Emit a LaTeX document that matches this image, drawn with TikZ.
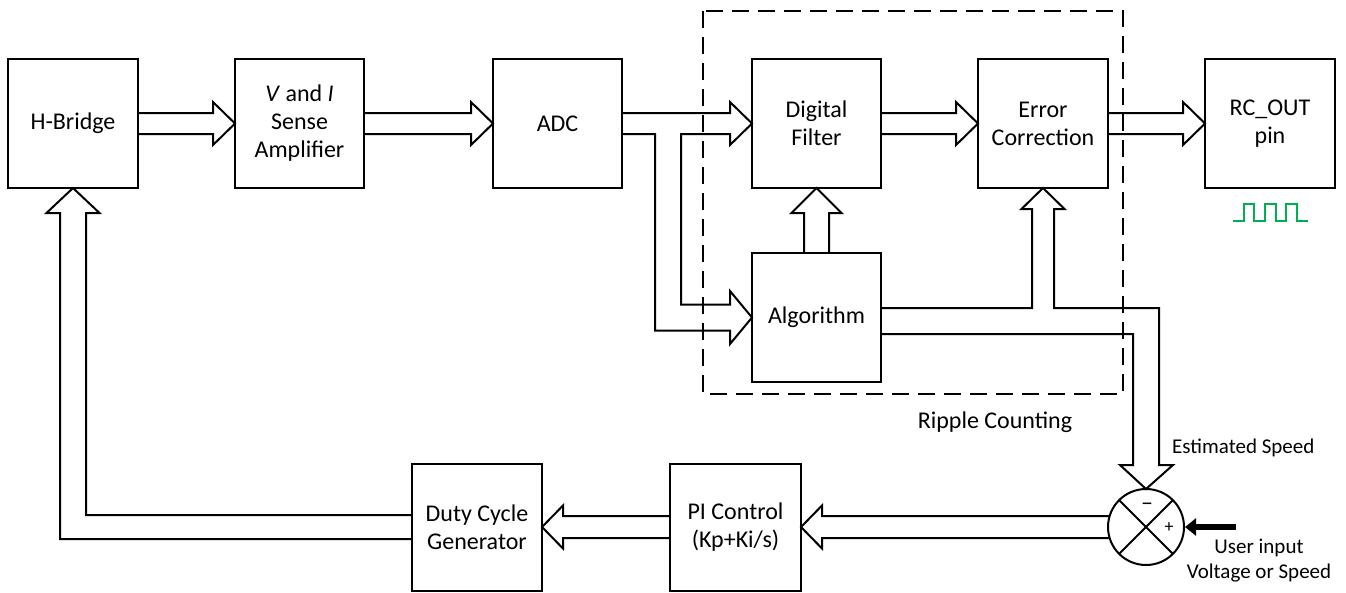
\documentclass[tikz,border=0pt]{standalone}
\usepackage{fontspec}
\setmainfont{Carlito}
\usetikzlibrary{calc,arrows.meta}
\definecolor{pwmgreen}{HTML}{00B050}
\newcommand{\blkarrowR}[2]{\draw[blk] ($(#1.east)+(0,-10.5)$) -- ($(#2.west)+(-22,-10.5)$) -- ($(#2.west)+(-22,-21.5)$) -- (#2.west) -- ($(#2.west)+(-22,21.5)$) -- ($(#2.west)+(-22,10.5)$) -- ($(#1.east)+(0,10.5)$);}
\newcommand{\blkarrowL}[2]{\draw[blk] ($(#1.west)+(0,-11)$) -- ($(#2.east)+(21,-11)$) -- ($(#2.east)+(21,-21.5)$) -- (#2.east) -- ($(#2.east)+(21,21.5)$) -- ($(#2.east)+(21,11)$) -- ($(#1.west)+(0,11)$);}
\begin{document}
\begin{tikzpicture}[x=1pt,y=-1pt,
  box/.style={draw,line width=2pt,minimum width=130pt,minimum height=129pt,align=center,
    font=\fontsize{24}{28}\selectfont,inner sep=0pt,outer sep=0pt},
  lowbox/.style={box,minimum height=127pt},
  blk/.style={draw,line width=2pt,line join=miter},
  lbl/.style={font=\fontsize{21}{25}\selectfont,inner sep=0pt},
  biglbl/.style={font=\fontsize{24}{28}\selectfont,inner sep=0pt}]
\useasboundingbox (0,0) rectangle (1346,592);

% dashed group frame
\draw[line width=2pt,dash pattern=on 17pt off 9pt] (703,11) rectangle (1123,394);

% blocks
\node[box] (hb)  at (73,123.5)   {H-Bridge};
\node[box,minimum width=129pt] (amp) at (299.5,123.5) {\textit{V} and \textit{I}\\Sense\\Amplifier};
\node[box,minimum width=129pt] (adc) at (557.5,123.5) {ADC};
\node[box,minimum width=129pt] (df)  at (816.5,123.5) {Digital\\Filter};
\node[box] (ec)  at (1043,123.5) {Error\\Correction};
\node[box] (rc)  at (1270,123.5) {RC\_OUT\\pin};
\node[box,minimum width=129pt] (alg) at (816.5,317.5) {Algorithm};
\node[lowbox] (dc) at (477,527) {Duty Cycle\\Generator};
\node[lowbox,minimum width=131pt] (pi) at (735.5,527) {PI Control\\(Kp+Ki/s)};
\node[draw,circle,line width=2pt,minimum size=76pt,inner sep=0pt,outer sep=0pt] (s) at (1146,527) {};
\draw[line width=2pt] (s.north west) -- (s.south east) (s.north east) -- (s.south west);
\node[font=\fontsize{24}{26}\selectfont,inner sep=0pt] (minus) at (1147,507) {–};
\node[font=\fontsize{18}{20}\selectfont,inner sep=0pt] (plus) at (1169,528) {+};

% straight block arrows
\blkarrowR{hb}{amp}
\blkarrowR{amp}{adc}
\blkarrowR{df}{ec}
\blkarrowR{ec}{rc}

% ADC -> Digital Filter and Algorithm
\draw[blk] ($(adc.east)+(0,-10.5)$) -- ($(df.west)+(-22,-10.5)$) -- ($(df.west)+(-22,-21.5)$) -- (df.west)
  -- ($(df.west)+(-22,21.5)$) -- ($(df.west)+(-22,10.5)$) -- (681,134) -- (681,304.5)
  -- ($(alg.west)+(-22,-13)$) -- ($(alg.west)+(-22,-26.5)$) -- (alg.west) -- ($(alg.west)+(-22,26.5)$)
  -- ($(alg.west)+(-22,13)$) -- (655,330.5) -- (655,134) -- ($(adc.east)+(0,10.5)$);

% Algorithm -> Digital Filter
\draw[blk] ($(alg.north)+(-12.5,0)$) -- ($(df.south)+(-12.5,25)$) -- ($(df.south)+(-25,25)$) -- (df.south)
  -- ($(df.south)+(25,25)$) -- ($(df.south)+(12.5,25)$) -- ($(alg.north)+(12.5,0)$);

% Algorithm -> Error Correction and summing junction
\draw[blk] ($(alg.east)+(0,-9.5)$) -- (1032,308) -- ($(ec.south)+(-11,21)$) -- ($(ec.south)+(-21.5,21)$) -- (ec.south)
  -- ($(ec.south)+(21.5,21)$) -- ($(ec.south)+(11,21)$) -- (1054,308) -- (1159,308)
  -- ($(s.north)+(13,-24)$) -- ($(s.north)+(27,-24)$) -- (s.north) -- ($(s.north)+(-26,-24)$)
  -- ($(s.north)+(-13,-24)$) -- (1133,334) -- ($(alg.east)+(0,16.5)$);

% summing junction -> PI
\draw[blk] ($(s.west)+(1.6,-11)$) -- ($(pi.east)+(21,-11)$) -- ($(pi.east)+(21,-21.5)$) -- (pi.east)
  -- ($(pi.east)+(21,21.5)$) -- ($(pi.east)+(21,11)$) -- ($(s.west)+(1.6,11)$);

% PI -> Duty cycle
\blkarrowL{pi}{dc}

% Duty cycle -> H-Bridge
\draw[blk] ($(dc.west)+(0,-12)$) -- (86,515) -- ($(hb.south)+(13,25)$) -- ($(hb.south)+(26.5,25)$) -- (hb.south)
  -- ($(hb.south)+(-26.5,25)$) -- ($(hb.south)+(-13,25)$) -- (60,539) -- ($(dc.west)+(0,12)$);

% user input
\coordinate (uin) at (1236,527);
\draw[line width=6pt,-{Triangle[length=11pt,width=17pt]}] (uin) -- ($(s.east)+(1,0)$);

% PWM symbol
\draw[pwmgreen,line width=2pt] (1233,221) -- (1244,221) -- (1244,204) -- (1254,204) -- (1254,221) -- (1265,221)
  -- (1265,204) -- (1276,204) -- (1276,221) -- (1286,221) -- (1286,204) -- (1297,204) -- (1297,221) -- (1308,221);

% labels
\node[biglbl] (ripl) at (995,422) {Ripple Counting};
\node[lbl,anchor=west] (est) at (1172,448) {Estimated Speed};
\node[lbl,align=center] (usr) at (1259,561) {User input\\Voltage or Speed};
\end{tikzpicture}
\end{document}
